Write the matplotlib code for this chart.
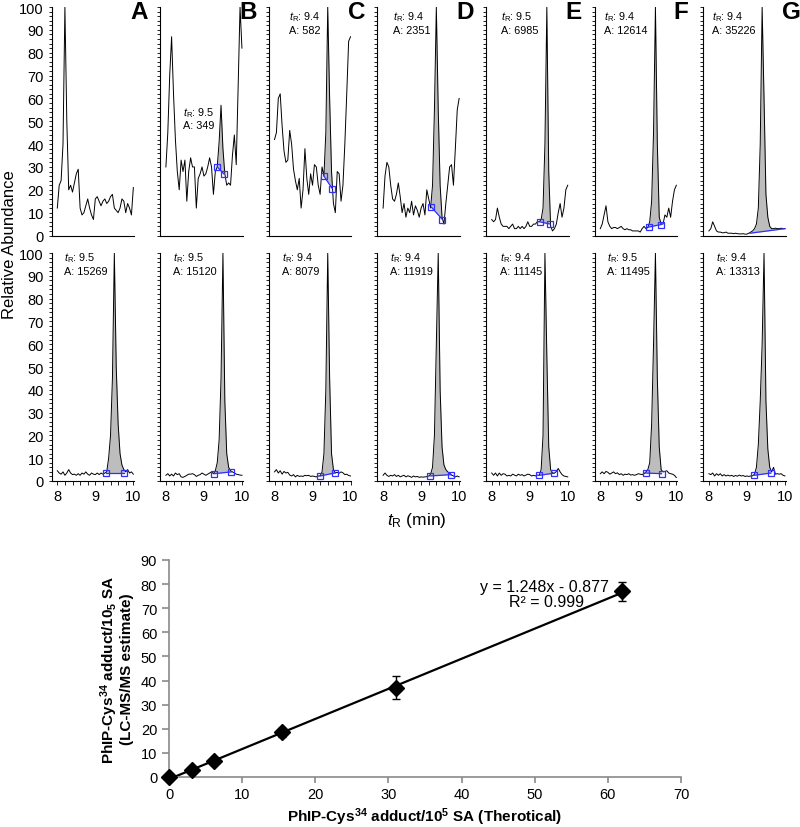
import numpy as np
import matplotlib
matplotlib.use("Agg")
import matplotlib.pyplot as plt
from matplotlib.ticker import MultipleLocator

plt.rcParams["font.family"] = ["Liberation Sans", "DejaVu Sans"]
plt.rcParams["mathtext.fontset"] = "custom"
plt.rcParams["mathtext.rm"] = "Liberation Sans"
plt.rcParams["mathtext.it"] = "Liberation Sans:italic"
plt.rcParams["mathtext.bf"] = "Liberation Sans:bold"

# ── chromatogram data (retention time grid, min) ─────────────────────────────
TIME = [8.00, 8.05, 8.10, 8.15, 8.20, 8.25, 8.30, 8.35, 8.40, 8.45,
        8.50, 8.55, 8.60, 8.65, 8.70, 8.75, 8.80, 8.85, 8.90, 8.95,
        9.00, 9.05, 9.10, 9.15, 9.20, 9.25, 9.30, 9.35, 9.40, 9.45,
        9.50, 9.55, 9.60, 9.65, 9.70, 9.75, 9.80, 9.85, 9.90, 9.95,
        10.00]

LETTERS = ["A", "B", "C", "D", "E", "F", "G"]

# top row: PhIP-Cys34 adduct channel
TOP_A = [12, 22, 24, 40, 100, 50, 20, 22, 19, 23,
         27, 29, 12, 9, 10, 13, 16, 12, 9, 7,
         16, 17, 15, 13, 15, 16, 14, 15, 17, 18,
         12, 11, 10, 12, 16, 15, 10, 14, 12, 9,
         21]
TOP_B = [30, 45, 70, 87, 62, 42, 28, 20, 33, 28,
         33, 15, 28, 34, 30, 30, 12, 25, 27, 30,
         26, 27, 30, 34, 30, 18, 28, 30, 41, 57,
         38, 27, 22, 23, 22, 35, 44, 31, 65, 100,
         82]
TOP_C = [42, 45, 60, 62, 48, 37, 32, 33, 46, 40,
         29, 24, 20, 25, 12, 20, 38, 25, 18, 27,
         22, 31, 30, 22, 18, 30, 26, 45, 100, 60,
         28, 14, 10, 28, 27, 15, 22, 40, 62, 85,
         87]
TOP_D = [12, 26, 32, 30, 22, 16, 15, 18, 23, 17,
         10, 14, 8, 12, 10, 15, 9, 13, 11, 8,
         12, 14, 9, 20, 16, 12, 22, 55, 100, 55,
         22, 8, 5, 14, 22, 30, 31, 22, 38, 55,
         60]
TOP_E = [7, 6, 7, 12, 8, 5, 4, 4, 4, 3,
         4, 5, 3, 3, 4, 3, 4, 3, 4, 6,
         4, 4, 5, 5, 6, 6, 7, 12, 40, 100,
         28, 4, 2, 3, 5, 10, 14, 8, 12, 20,
         22]
TOP_F = [3, 5, 9, 13, 6, 4, 3, 3.5, 3.5, 3,
         3.5, 4, 3, 2.5, 3, 2.5, 2.5, 2, 2, 2,
         2, 1.5, 3, 4, 3, 3.5, 6, 15, 45, 100,
         40, 8, 5, 5, 9, 8, 12, 8, 15, 20,
         22]
TOP_G = [2, 3, 6, 4, 2, 1.5, 1.5, 1.2, 1.2, 1.5,
         1, 1, 1, 0.8, 1, 0.8, 0.7, 0.7, 0.8, 0.6,
         0.6, 1, 1.5, 2, 3, 5, 12, 40, 100, 60,
         18, 8, 4, 3, 3, 3.2, 3, 3, 3.2, 3,
         3]

# bottom row: internal standard channel
BOT_A = [4.5, 3.5, 3, 4, 2.5, 3.5, 5, 3.5, 2.8, 3,
         2.5, 3.2, 2.5, 3.5, 3, 4, 3, 2.5, 3.5, 3,
         2.8, 3.5, 2.8, 3.5, 3, 3.5, 4, 10, 20, 45,
         100, 50, 25, 12, 7, 5, 4, 5, 3.5, 4,
         3]
BOT_B = [2.5, 3.2, 2.2, 3, 2.2, 3.5, 2.8, 3.2, 1.8, 1.6,
         2, 2.5, 3, 3, 3.2, 2.8, 2, 2.5, 2.8, 3.5,
         3, 2.5, 3, 3.5, 4, 3.2, 4.5, 8, 18, 45,
         100, 35, 12, 6, 4.5, 4, 3.5, 3, 2.8, 2.6,
         2.5]
BOT_C = [4, 5, 3.5, 4.5, 3, 4.2, 3.5, 3.8, 2.6, 2.2,
         2.8, 1.8, 2.5, 2, 2.2, 2, 2.5, 2.3, 2.5, 2,
         2.2, 2, 1.8, 2.2, 2.2, 4, 12, 40, 100, 45,
         12, 5, 3.5, 3.8, 3.4, 4, 3.6, 2.8, 3, 2.4,
         2.2]
BOT_D = [2.5, 3.5, 2.5, 2, 2.5, 2.2, 2.8, 2, 2.5, 1.8,
         2.2, 2.5, 1.8, 2.3, 2, 1.6, 2.2, 1.8, 2, 1.6,
         1.8, 1.7, 1.8, 1.9, 2.2, 3, 6, 20, 60, 100,
         40, 15, 7, 5, 4, 3.5, 2.6, 2.2, 1.8, 2.2,
         1.8]
BOT_E = [3.5, 2.5, 3.5, 2.2, 3.5, 2.5, 3.2, 3, 2.2, 2.5,
         2.2, 3, 2.6, 2.2, 3, 2.5, 2.8, 2.2, 2.6, 3,
         2.8, 2.2, 2.5, 2.2, 2.6, 2.5, 5, 20, 100, 55,
         15, 5, 3.5, 3.4, 4.2, 5.5, 4, 2.8, 2.2, 2,
         1.8]
BOT_F = [3.2, 4, 3.2, 4.2, 3.8, 3, 3.5, 4, 3.2, 3.6,
         2.8, 3.2, 2.5, 3, 2.8, 3.2, 2.6, 2.8, 2.5, 2.8,
         3.2, 3, 2.8, 3.2, 4, 5, 8, 25, 60, 100,
         45, 15, 5, 4, 4.2, 4.5, 3.5, 3.2, 3, 2.5,
         1.5]
BOT_G = [3.2, 2.8, 3.5, 2.2, 3.2, 2.5, 3.2, 2.2, 2.8, 2.2,
         2.6, 2.2, 2.5, 2, 2.4, 2.1, 2.6, 2.2, 2.4, 2,
         2.2, 2, 2.2, 2.3, 3, 6, 16, 35, 60, 100,
         35, 14, 6, 4, 6, 3, 3.2, 3, 3.2, 2.5,
         2.2]

TOP_TRACES = [TOP_A, TOP_B, TOP_C, TOP_D, TOP_E, TOP_F, TOP_G]
BOT_TRACES = [BOT_A, BOT_B, BOT_C, BOT_D, BOT_E, BOT_F, BOT_G]

# integration baselines: (t_start, y_start, t_end, y_end); None = no peak
TOP_BASE = [None, (9.35, 30, 9.52, 27), (9.30, 26, 9.52, 20.5), (9.27, 12.4, 9.56, 7),
            (9.26, 6, 9.54, 5), (9.27, 3.7, 9.60, 4.8), (9.08, 1.0, 10.0, 3.0)]
BOT_BASE = [(9.28, 3.5, 9.76, 3.5), (9.27, 3.2, 9.72, 4.0), (9.20, 2.2, 9.58, 3.5),
            (9.23, 2.2, 9.79, 2.8), (9.25, 2.5, 9.63, 3.4), (9.19, 3.5, 9.61, 3.2),
            (9.19, 2.5, 9.63, 3.5)]
TOP_MARKERS = [False, True, True, True, True, True, False]

# peak annotations
TOP_TR = [None, "9.5", "9.4", "9.4", "9.5", "9.4", "9.4"]
TOP_AREA = [None, "349", "582", "2351", "6985", "12614", "35226"]
BOT_TR = ["9.5", "9.5", "9.4", "9.4", "9.4", "9.5", "9.4"]
BOT_AREA = ["15269", "15120", "8079", "11919", "11145", "11495", "13313"]

# ── calibration data ────────────────────────────────────────────────────────
X_THEO = [0, 3.1, 6.2, 15.5, 31, 62]
Y_EST = [0, 3.0, 6.5, 18.5, 37, 77]
Y_ERR = [0, 1.0, 1.0, 2.0, 4.7, 4.0]
SLOPE, INTERCEPT = 1.248, -0.877

W, H = 800, 828
fig = plt.figure(figsize=(W / 100, H / 100), dpi=100)
fig.patch.set_facecolor("white")


def px_axes(left, top, right, bottom):
    return fig.add_axes([left / W, 1 - bottom / H, (right - left) / W, (bottom - top) / H])


FILL = "#BDBDBD"
BLUE = "#2F2FFF"


def draw_chrom(ax, trace, base, markers, tr, area, ann_y):
    t = np.array(TIME)
    y = np.array(trace, dtype=float)
    ax.plot(t, y, color="black", lw=0.7, zorder=2)
    if base is not None:
        t0, y0, t1, y1 = base
        inside = (t > t0) & (t < t1)
        xs = np.concatenate([[t0], t[inside], [t1]])
        ys = np.interp(xs, t, y)
        bl = y0 + (y1 - y0) * (xs - t0) / (t1 - t0)
        ax.fill_between(xs, bl, ys, color=FILL, lw=0, zorder=1)
        ax.plot([t0, t1], [y0, y1], color=BLUE, lw=0.9, zorder=4)
        if markers:
            ax.plot([t0, t1], [y0, y1], ls="none", marker="s", ms=4.5, mfc="none",
                    mec=BLUE, mew=0.9, zorder=5)
    if tr is not None:
        tx, ty1, ty2 = ann_y
        ax.text(tx, ty1, r"$\mathit{t}_\mathrm{R}$: " + tr, fontsize=7.8, va="center", ha="left")
        ax.text(tx, ty2, "A: " + area, fontsize=7.8, va="center", ha="left")


TOP_ANN = [None, (8.44, 54, 48.5), (8.38, 96, 90), (8.26, 96, 90), (8.25, 96, 90),
           (8.10, 96, 90), (8.09, 96, 90)]
BOT_ANN_X = [8.18, 8.19, 8.20, 8.17, 8.21, 8.17, 8.19]

for i, letter in enumerate(LETTERS):
    left = 51.6 + 108.6 * i
    right = left + 82.5
    for row in (0, 1):
        top, bottom = (8, 236.5) if row == 0 else (254, 482)
        ax = px_axes(left, top, right, bottom)
        ax.set_xlim(7.85, 10.02)
        ax.set_ylim(0, 100)
        for sp in ("top", "right"):
            ax.spines[sp].set_visible(False)
        for sp in ("left", "bottom"):
            ax.spines[sp].set_linewidth(0.8)
        ax.yaxis.set_major_locator(MultipleLocator(10))
        ax.yaxis.set_minor_locator(MultipleLocator(2))
        ax.tick_params(axis="y", which="both", direction="out", length=2.5, width=0.6,
                       labelsize=10.5, pad=3, labelleft=(i == 0))
        if row == 0:
            ax.tick_params(axis="x", which="both", bottom=False, labelbottom=False)
            draw_chrom(ax, TOP_TRACES[i], TOP_BASE[i], TOP_MARKERS[i],
                       TOP_TR[i], TOP_AREA[i], TOP_ANN[i])
            ax.text(0.96, 1.03, letter, transform=ax.transAxes, fontsize=17.5,
                    fontweight="bold", ha="left", va="top")
        else:
            ax.xaxis.set_major_locator(MultipleLocator(1))
            ax.xaxis.set_minor_locator(MultipleLocator(0.2))
            ax.tick_params(axis="x", which="both", direction="out", length=3, width=0.6,
                           labelsize=10.5, pad=3)
            draw_chrom(ax, BOT_TRACES[i], BOT_BASE[i], True,
                       BOT_TR[i], BOT_AREA[i], (BOT_ANN_X[i], 98, 92))

fig.text(10 / W, 1 - 245 / H, "Relative Abundance", rotation=90, fontsize=12,
         ha="center", va="center")
fig.text(417 / W, 1 - 520 / H, r"$\mathit{t}_\mathrm{R}$ (min)", fontsize=12.5,
         ha="center", va="center")

# ── calibration plot ────────────────────────────────────────────────────────
ax = px_axes(169, 561, 681, 778)
ax.set_xlim(0, 70)
ax.set_ylim(0, 90)
x_line = np.array([0, max(X_THEO)])
ax.plot(x_line, SLOPE * x_line + INTERCEPT, color="black", lw=1.6, zorder=2)
ax.errorbar(X_THEO, Y_EST, yerr=Y_ERR, fmt="D", color="black", ms=8, capsize=3,
            elinewidth=1, capthick=1, zorder=3, clip_on=False)
ax.text(60.2, 79, "y = 1.248x - 0.877", ha="right", va="center", fontsize=11.5)
ax.text(56.8, 72.6, "R² = 0.999", ha="right", va="center", fontsize=11.5)
for sp in ("top", "right"):
    ax.spines[sp].set_visible(False)
for sp in ("left", "bottom"):
    ax.spines[sp].set_color("#8a8a8a")
    ax.spines[sp].set_linewidth(1.2)
ax.xaxis.set_major_locator(MultipleLocator(10))
ax.yaxis.set_major_locator(MultipleLocator(10))
ax.tick_params(axis="x", direction="out", length=4, width=1.2, color="#8a8a8a", labelsize=10.5)
ax.tick_params(axis="y", direction="out", length=5, width=1.2, color="#8a8a8a", labelsize=10.5)
ax.set_xlabel(r"PhIP-Cys$^{\mathbf{34}}$ adduct/10$^{\mathbf{5}}$ SA (Therotical)",
              fontsize=11, fontweight="bold", labelpad=3)
ax.set_ylabel(r"PhIP-Cys$^{\mathbf{34}}$ adduct/10$_{\mathbf{5}}$ SA" + "\n(LC-MS/MS estimate)",
              fontsize=11, fontweight="bold", labelpad=5, linespacing=1.0)

fig.savefig("out.png", dpi=100)
